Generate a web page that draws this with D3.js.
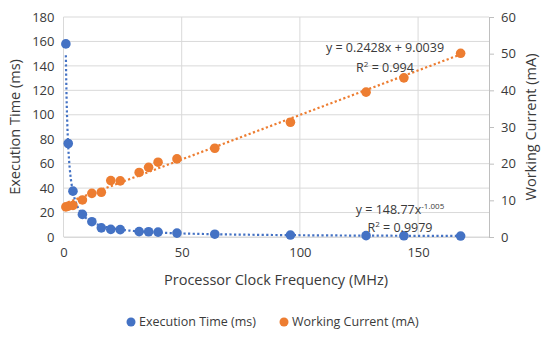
<!DOCTYPE html>
<html>
<head>
<meta charset="utf-8">
<script src="https://cdn.jsdelivr.net/npm/d3@7"></script>
<style>
  body { margin: 0; background: #fff; }
  svg text { font-family: "Open Sans", sans-serif; fill: #3a3a3a; }
</style>
</head>
<body>
<div id="chart"></div>
<script>
// clock frequency (MHz)
const freqs = [1, 2, 4, 8, 12, 16, 20, 24, 32, 36, 40, 48, 64, 96, 128, 144, 168]
// execution time (ms), left axis
const execTime = [158, 76.5, 37.5, 18.5, 12.5, 7.5, 6.2, 6.0, 4.4, 4.3, 4.0, 3.2, 2.3, 1.6, 1.1, 1.0, 0.8]
// working current (mA), right axis
const workCurrent = [8.2, 8.4, 8.6, 10.1, 11.9, 12.2, 15.4, 15.3, 17.6, 19.0, 20.4, 21.3, 24.2, 31.3, 39.5, 43.4, 50.1]

// trendline fits as printed on the chart
const linFit = { a: 0.2428, b: 9.0039 }
const powFit = { a: 148.77, b: -1.005 }

const xTicks = [0, 50, 100, 150]
const yLeftTicks = [0, 20, 40, 60, 80, 100, 120, 140, 160, 180]
const yRightTicks = [0, 10, 20, 30, 40, 50, 60]

const W = 550, H = 338
const margin = { top: 17, right: 61, bottom: 101, left: 63.5 }
const blue = '#4472C4', orange = '#ED7D31', grid = '#d9d9d9'
const fs = 13        // tick labels
const titleFs = 14.5 // axis titles

const svg = d3.select('#chart').append('svg')
  .attr('width', W).attr('height', H)

const xs = d3.scaleLinear().domain([0, 180]).range([margin.left, W - margin.right])
const yl = d3.scaleLinear().domain([0, 180]).range([H - margin.bottom, margin.top])
const yr = d3.scaleLinear().domain([0, 60]).range([H - margin.bottom, margin.top])

// gridlines
svg.append('g').selectAll('line').data(yLeftTicks).join('line')
  .attr('x1', xs(0)).attr('x2', xs(180))
  .attr('y1', d => yl(d)).attr('y2', d => yl(d))
  .attr('stroke', grid).attr('stroke-width', 1)
svg.append('g').selectAll('line').data(xTicks).join('line')
  .attr('x1', d => xs(d)).attr('x2', d => xs(d))
  .attr('y1', yl(0)).attr('y2', yl(180))
  .attr('stroke', grid).attr('stroke-width', 1)

// axes
const xAxis = svg.append('g')
  .attr('transform', `translate(0,${yl(0)})`)
  .call(d3.axisBottom(xs).tickValues(xTicks).tickSize(0).tickPadding(11))
xAxis.select('.domain').attr('stroke', grid)

const yAxisL = svg.append('g')
  .attr('transform', `translate(${xs(0)},0)`)
  .call(d3.axisLeft(yl).tickValues(yLeftTicks).tickSize(0).tickPadding(9))
yAxisL.select('.domain').remove()

const yAxisR = svg.append('g')
  .attr('transform', `translate(${xs(180)},0)`)
  .call(d3.axisRight(yr).tickValues(yRightTicks).tickSize(5).tickPadding(7))
yAxisR.select('.domain').attr('stroke', '#bfbfbf')
yAxisR.selectAll('.tick line').attr('stroke', '#bfbfbf')

svg.selectAll('.tick text').attr('font-size', fs).style('fill', '#3a3a3a')
  .attr('font-family', '"Open Sans", sans-serif')

// axis titles
svg.append('text')
  .attr('transform', `translate(16,${(yl(0) + yl(180)) / 2}) rotate(-90)`)
  .attr('text-anchor', 'middle').attr('dominant-baseline', 'middle')
  .attr('font-size', titleFs).text('Execution Time (ms)')
svg.append('text')
  .attr('transform', `translate(532,${(yl(0) + yl(180)) / 2}) rotate(-90)`)
  .attr('text-anchor', 'middle').attr('dominant-baseline', 'middle')
  .attr('font-size', titleFs).text('Working Current (mA)')
svg.append('text')
  .attr('x', 276).attr('y', 285)
  .attr('text-anchor', 'middle')
  .attr('font-size', titleFs).text('Processor Clock Frequency (MHz)')

// trendlines
const xMin = d3.min(freqs), xMax = d3.max(freqs)
const linPts = [0, xMax].map(x => [x, linFit.a * x + linFit.b])
const powPts = d3.range(0, 400).map(i => xMin * Math.pow(xMax / xMin, i / 399))
  .map(x => [x, powFit.a * Math.pow(x, powFit.b)])

svg.append('path')
  .datum(linPts)
  .attr('d', d3.line().x(d => xs(d[0])).y(d => yr(d[1])))
  .attr('fill', 'none').attr('stroke', orange)
  .attr('stroke-width', 2.2).attr('stroke-dasharray', '2.2 2.4')
svg.append('path')
  .datum(powPts)
  .attr('d', d3.line().x(d => xs(d[0])).y(d => yl(d[1])))
  .attr('fill', 'none').attr('stroke', blue)
  .attr('stroke-width', 2.2).attr('stroke-dasharray', '2.2 2.4')

// points
svg.append('g').selectAll('circle').data(freqs).join('circle')
  .attr('cx', d => xs(d)).attr('cy', (d, i) => yr(workCurrent[i]))
  .attr('r', 4.8).attr('fill', orange)
svg.append('g').selectAll('circle').data(freqs).join('circle')
  .attr('cx', d => xs(d)).attr('cy', (d, i) => yl(execTime[i]))
  .attr('r', 4.8).attr('fill', blue)

// trendline labels
svg.append('text').attr('x', 385).attr('y', 52)
  .attr('text-anchor', 'middle').attr('font-size', 12.5)
  .text('y = 0.2428x + 9.0039')
const r1 = svg.append('text').attr('x', 385).attr('y', 72)
  .attr('text-anchor', 'middle').attr('font-size', 12.5)
r1.append('tspan').text('R')
r1.append('tspan').attr('dy', -5).attr('font-size', 8).text('2')
r1.append('tspan').attr('dy', 5).text(' = 0.994')

const eq2 = svg.append('text').attr('x', 400).attr('y', 214)
  .attr('text-anchor', 'middle').attr('font-size', 12.5)
eq2.append('tspan').text('y = 148.77x')
eq2.append('tspan').attr('dy', -5).attr('font-size', 8).text('-1.005')
const r2 = svg.append('text').attr('x', 400).attr('y', 232)
  .attr('text-anchor', 'middle').attr('font-size', 12.5)
r2.append('tspan').text('R')
r2.append('tspan').attr('dy', -5).attr('font-size', 8).text('2')
r2.append('tspan').attr('dy', 5).text(' = 0.9979')

// legend
const legend = [
  { label: 'Execution Time (ms)', color: blue, x: 131 },
  { label: 'Working Current (mA)', color: orange, x: 284 }
]
const lg = svg.append('g').selectAll('g').data(legend).join('g')
  .attr('transform', d => `translate(${d.x},322)`)
lg.append('circle').attr('r', 4.5).attr('fill', d => d.color)
lg.append('text').attr('x', 8).attr('dy', '0.35em')
  .attr('font-size', 12.5).text(d => d.label)
</script>
</body>
</html>
